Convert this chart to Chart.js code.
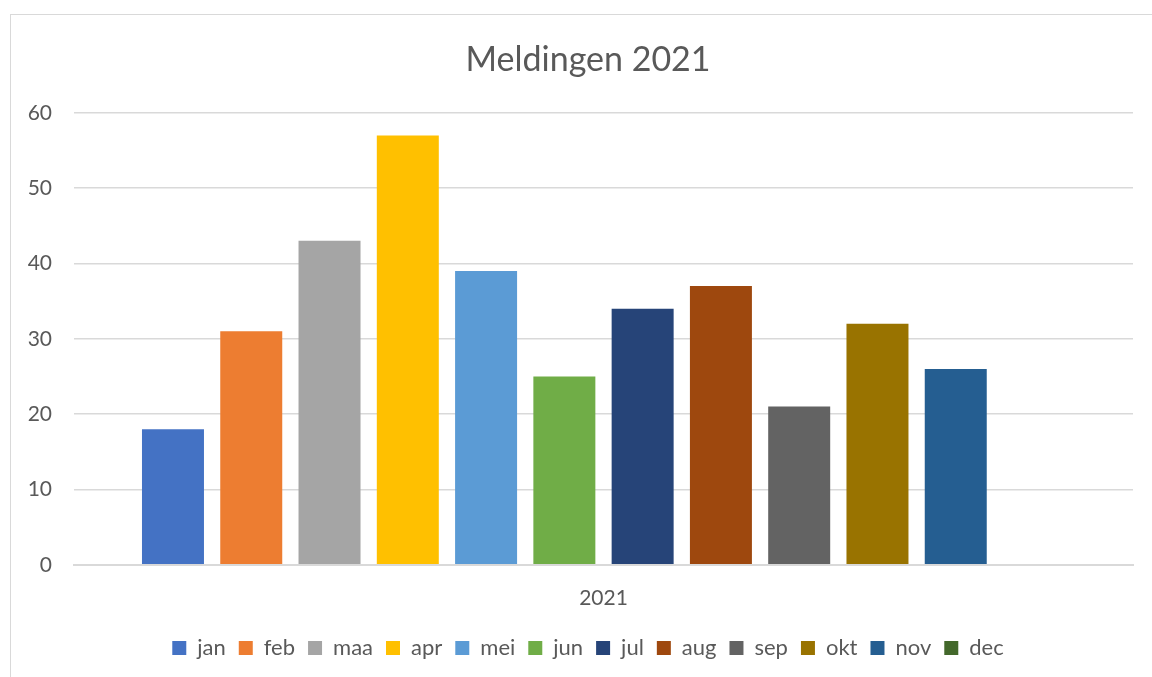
<!DOCTYPE html>
<html>
<head>
<meta charset="utf-8">
<script src="https://cdn.jsdelivr.net/npm/chart.js@4"></script>
<style>
  html, body { margin: 0; padding: 0; background: #fff; overflow: hidden; }
  body { width: 1152px; height: 677px; position: relative; }
  /* rand van de grafiek (loopt rechts en onder buiten beeld) */
  #frame {
    position: absolute; left: 10px; top: 14px;
    width: 1160px; height: 700px;
    border: 1.5px solid #d9d9d9; box-sizing: border-box;
  }
  #wrap { position: absolute; left: 10px; top: 14px; width: 1156px; height: 663px; }
</style>
</head>
<body>
<div id="frame"></div>
<div id="wrap"><canvas id="chart"></canvas></div>
<script>
// ===== Data =====
const categories = ['2021'];
const months = ['jan', 'feb', 'maa', 'apr', 'mei', 'jun', 'jul', 'aug', 'sep', 'okt', 'nov', 'dec'];
const values = [18, 31, 43, 57, 39, 25, 34, 37, 21, 32, 26, null];
const colors = ['#4472C4', '#ED7D31', '#A5A5A5', '#FFC000', '#5B9BD5', '#70AD47',
                '#264478', '#9E480E', '#636363', '#997300', '#255E91', '#43682B'];
const yTicks = [0, 10, 20, 30, 40, 50, 60];

const FONT = 'Lato, "Open Sans", sans-serif';
const TEXT = '#595959';
const GRID = '#d9d9d9';

// Een dataset per maand, zoals in Excel
const datasets = months.map((m, i) => ({
  label: m,
  data: [values[i]],
  backgroundColor: colors[i],
  borderWidth: 0,
  categoryPercentage: 0.887,
  barPercentage: 0.792
}));

const ctx = document.getElementById('chart').getContext('2d');
new Chart(ctx, {
  type: 'bar',
  data: { labels: categories, datasets },
  options: {
    responsive: true,
    maintainAspectRatio: false,
    animation: false,
    layout: { padding: { left: 0, right: 0, top: 0, bottom: 8 } },
    plugins: {
      title: {
        display: true,
        text: 'Meldingen 2021',
        color: TEXT,
        font: { family: FONT, size: 34, weight: 'normal' },
        padding: { top: 26, bottom: 32 }
      },
      legend: {
        position: 'bottom',
        labels: {
          color: TEXT,
          font: { family: FONT, size: 22 },
          boxWidth: 14,
          boxHeight: 14,
          padding: 13
        }
      },
      tooltip: { enabled: false }
    },
    scales: {
      x: {
        grid: { display: false },
        border: { display: true, color: GRID, width: 2 },
        ticks: { color: TEXT, font: { family: FONT, size: 21 }, padding: 13 }
      },
      y: {
        min: 0,
        max: 60,
        afterBuildTicks: axis => { axis.ticks = yTicks.map(v => ({ value: v })); },
        afterFit: axis => { axis.width = 64; },
        grid: { color: GRID, lineWidth: 1.5, drawTicks: false },
        border: { display: false },
        ticks: { color: TEXT, font: { family: FONT, size: 21 }, padding: 22 }
      },
      // lege ruimte rechts van het plotgebied
      spacer: {
        position: 'right',
        grid: { display: false },
        border: { display: false },
        ticks: { display: false },
        afterFit: axis => { axis.width = 33; }
      }
    }
  }
});
</script>
</body>
</html>
